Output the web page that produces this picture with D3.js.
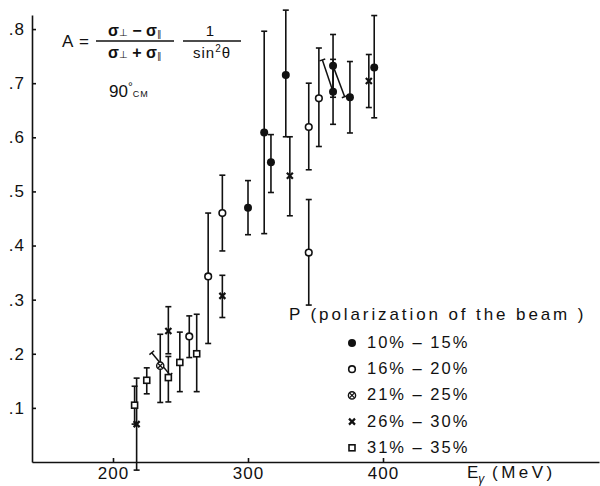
<!DOCTYPE html>
<html>
<head>
<meta charset="utf-8">
<script src="https://cdn.jsdelivr.net/npm/d3@7"></script>
<style>
body { margin: 0; background: #fff; }
text { font-family: "Liberation Sans", Arial, sans-serif; fill: #111; }
</style>
</head>
<body>
<div id="chart"></div>
<script>
// each row: [E_gamma (MeV), A, lower end of error bar, upper end of error bar]
var pol_10_15 = [
	[300, 0.470, 0.420, 0.520],
	[312, 0.609, 0.422, 0.796],
	[317, 0.554, 0.498, 0.605],
	[328, 0.715, 0.601, 0.835],
	[363, 0.732, 0.674, 0.790],
	[363, 0.684, 0.624, 0.744],
	[375.5, 0.674, 0.608, 0.740],
	[393.5, 0.729, 0.636, 0.825]
];
var pol_16_20 = [
	[256.5, 0.232, 0.193, 0.270],
	[270.5, 0.343, 0.219, 0.460],
	[281, 0.460, 0.390, 0.530],
	[345, 0.619, 0.540, 0.700],
	[345, 0.387, 0.290, 0.485],
	[352.5, 0.672, 0.583, 0.765]
];
var pol_21_25 = [
	[235, 0.178, 0.110, 0.236]
];
var pol_26_30 = [
	[217.5, 0.070, -0.015, 0.155],
	[241, 0.242, 0.200, 0.287],
	[281, 0.307, 0.267, 0.345],
	[331, 0.529, 0.455, 0.601],
	[389.5, 0.704, 0.655, 0.753]
];
var pol_31_35 = [
	[216, 0.105, 0.070, 0.140],
	[225, 0.151, 0.126, 0.174],
	[241, 0.156, 0.111, 0.195],
	[249.5, 0.184, 0.130, 0.240],
	[262, 0.200, 0.130, 0.273]
];
// slanted bars drawn in the figure: [E1, A1, E2, A2]
var slanted = [
	[228.7, 0.202, 242.2, 0.161],
	[355.1, 0.743, 363, 0.684],
	[363, 0.732, 371.6, 0.675]
];

var x_ticks = [200, 300, 400];
var y_ticks = [0.1, 0.2, 0.3, 0.4, 0.5, 0.6, 0.7, 0.8];
var legend_title = "P (polarization of the beam )";
var legend_labels = ["10% – 15%", "16% – 20%", "21% – 25%", "26% – 30%", "31% – 35%"];

var width = 600,
	height = 486;

var svg = d3.select("#chart")
	.append("svg")
	.attr("width", width)
	.attr("height", height);

var x_scale = d3.scaleLinear()
	.domain([140, 560])
	.range([32, 599]);
var y_scale = d3.scaleLinear()
	.domain([0, 0.826])
	.range([462, 15]);

// axes
var x_axis = d3.axisBottom(x_scale)
	.tickValues(x_ticks)
	.tickSize(-4)
	.tickSizeOuter(0)
	.tickPadding(5)
	.tickFormat(d3.format("d"));
var y_axis = d3.axisLeft(y_scale)
	.tickValues(y_ticks)
	.tickSize(-4)
	.tickSizeOuter(0)
	.tickPadding(7)
	.tickFormat(function(d){ return d.toFixed(1).replace("0.", "."); });

var gx = svg.append("g")
	.attr("transform", "translate(0," + y_scale(0) + ")")
	.call(x_axis);
var gy = svg.append("g")
	.attr("transform", "translate(" + x_scale(140) + ",0)")
	.call(y_axis);

[gx, gy].forEach(function(g){
	g.attr("color", "#111");
	g.selectAll("path, line").attr("stroke-width", 1.6);
	g.selectAll("text")
		.attr("font-family", "Liberation Sans, Arial, sans-serif")
		.attr("font-size", 17)
		.attr("letter-spacing", 1);
});

svg.append("text")
	.attr("x", 467)
	.attr("y", 478)
	.attr("font-size", 17)
	.text("E")
	.append("tspan")
	.attr("font-size", 12)
	.attr("font-style", "italic")
	.attr("dy", 5)
	.text("γ");
svg.append("text")
	.attr("x", 492)
	.attr("y", 478)
	.attr("font-size", 17)
	.attr("letter-spacing", 3.5)
	.text("(MeV)");

// marks
var plot = svg.append("g").attr("class", "plot");

function errorbars(data){
	var g = plot.append("g").attr("class", "errorbars");
	g.selectAll("line.bar")
		.data(data)
		.enter()
		.append("line")
		.attr("class", "bar")
		.attr("x1", function(d){ return x_scale(d[0]); })
		.attr("x2", function(d){ return x_scale(d[0]); })
		.attr("y1", function(d){ return y_scale(d[2]); })
		.attr("y2", function(d){ return y_scale(d[3]); })
		.attr("stroke", "#111")
		.attr("stroke-width", 1.6);
	[2, 3].forEach(function(k){
		g.selectAll("line.cap" + k)
			.data(data)
			.enter()
			.append("line")
			.attr("class", "cap" + k)
			.attr("x1", function(d){ return x_scale(d[0]) - 3; })
			.attr("x2", function(d){ return x_scale(d[0]) + 3; })
			.attr("y1", function(d){ return y_scale(d[k]); })
			.attr("y2", function(d){ return y_scale(d[k]); })
			.attr("stroke", "#111")
			.attr("stroke-width", 1.6);
	});
}

function marker(g, type, cx, cy){
	if (type == "filled"){
		g.append("circle").attr("cx", cx).attr("cy", cy).attr("r", 4).attr("fill", "#111");
	}
	else if (type == "open"){
		g.append("circle").attr("cx", cx).attr("cy", cy).attr("r", 3.3)
			.attr("fill", "#fff").attr("stroke", "#111").attr("stroke-width", 1.6);
	}
	else if (type == "crossed"){
		g.append("circle").attr("cx", cx).attr("cy", cy).attr("r", 3.6)
			.attr("fill", "#fff").attr("stroke", "#111").attr("stroke-width", 1.4);
		g.append("path").attr("d", "M" + (cx - 2.5) + "," + (cy - 2.5) + "L" + (cx + 2.5) + "," + (cy + 2.5) +
			"M" + (cx + 2.5) + "," + (cy - 2.5) + "L" + (cx - 2.5) + "," + (cy + 2.5))
			.attr("stroke", "#111").attr("stroke-width", 1.3);
	}
	else if (type == "cross"){
		g.append("path").attr("d", "M" + (cx - 3) + "," + (cy - 3) + "L" + (cx + 3) + "," + (cy + 3) +
			"M" + (cx + 3) + "," + (cy - 3) + "L" + (cx - 3) + "," + (cy + 3))
			.attr("stroke", "#111").attr("stroke-width", 2.2);
	}
	else if (type == "square"){
		g.append("rect").attr("x", cx - 3).attr("y", cy - 3).attr("width", 6).attr("height", 6)
			.attr("fill", "#fff").attr("stroke", "#111").attr("stroke-width", 1.6);
	}
}

var groups = [
	{data: pol_10_15, type: "filled"},
	{data: pol_16_20, type: "open"},
	{data: pol_21_25, type: "crossed"},
	{data: pol_26_30, type: "cross"},
	{data: pol_31_35, type: "square"}
];

groups.forEach(function(s){ errorbars(s.data); });

// slanted bars with their end caps
var slant = plot.append("g").attr("class", "slanted");
slanted.forEach(function(d){
	var xa = x_scale(d[0]), ya = y_scale(d[1]),
		xb = x_scale(d[2]), yb = y_scale(d[3]);
	var len = Math.sqrt((xb - xa) * (xb - xa) + (yb - ya) * (yb - ya));
	var nx = -(yb - ya) / len * 3, ny = (xb - xa) / len * 3;
	slant.append("line")
		.attr("x1", xa).attr("y1", ya).attr("x2", xb).attr("y2", yb)
		.attr("stroke", "#111").attr("stroke-width", 1.5);
	[[xa, ya], [xb, yb]].forEach(function(p){
		slant.append("line")
			.attr("x1", p[0] - nx).attr("y1", p[1] - ny)
			.attr("x2", p[0] + nx).attr("y2", p[1] + ny)
			.attr("stroke", "#111").attr("stroke-width", 1.5);
	});
});

groups.forEach(function(s){
	var g = plot.append("g").attr("class", "points " + s.type);
	s.data.forEach(function(d){
		marker(g, s.type, x_scale(d[0]), y_scale(d[1]));
	});
});

// legend
var legend = svg.append("g").attr("class", "legend");
legend.append("text")
	.attr("x", 289)
	.attr("y", 320)
	.attr("font-size", 17)
	.attr("letter-spacing", 2.9)
	.text(legend_title);
legend_labels.forEach(function(label, i){
	var ly = 348 + i * 26.2;
	marker(legend, groups[i].type, 352, ly - 5);
	legend.append("text")
		.attr("x", 367)
		.attr("y", ly)
		.attr("font-size", 16.5)
		.attr("letter-spacing", 2)
		.text(label);
});

// formula and angle
var formula = svg.append("g").attr("class", "formula");
formula.append("text").attr("x", 62).attr("y", 47).attr("font-size", 17).text("A");
formula.append("text").attr("x", 79).attr("y", 47).attr("font-size", 17).text("=");
formula.append("line").attr("x1", 96).attr("x2", 174).attr("y1", 41).attr("y2", 41)
	.attr("stroke", "#111").attr("stroke-width", 1.5);
formula.append("line").attr("x1", 183).attr("x2", 241).attr("y1", 41).attr("y2", 41)
	.attr("stroke", "#111").attr("stroke-width", 1.5);

function sigma_pair(y, op){
	var t = formula.append("text").attr("x", 135).attr("y", y)
		.attr("text-anchor", "middle").attr("font-size", 16);
	t.append("tspan").attr("font-weight", "bold").text("σ");
	t.append("tspan").attr("font-size", 10).text("⊥");
	t.append("tspan").attr("font-weight", "bold").text(" " + op + " ");
	t.append("tspan").attr("font-weight", "bold").text("σ");
	t.append("tspan").attr("font-size", 9).attr("dy", 1).text("∥");
}
sigma_pair(36, "−");
sigma_pair(58, "+");

formula.append("text").attr("x", 210).attr("y", 36).attr("text-anchor", "middle")
	.attr("font-size", 15).text("1");
var sin_t = formula.append("text").attr("x", 212).attr("y", 58).attr("text-anchor", "middle")
	.attr("font-size", 15).attr("letter-spacing", 1);
sin_t.append("tspan").text("sin");
sin_t.append("tspan").attr("font-size", 10).attr("dy", -6).text("2");
sin_t.append("tspan").attr("dy", 6).text("θ");

var angle = formula.append("text").attr("x", 109).attr("y", 97).attr("font-size", 17);
angle.append("tspan").text("90");
angle.append("tspan").attr("font-size", 12).attr("dy", -6).text("°");
angle.append("tspan").attr("font-size", 9).attr("dy", 6).attr("letter-spacing", 1).text("CM");
</script>
</body>
</html>
